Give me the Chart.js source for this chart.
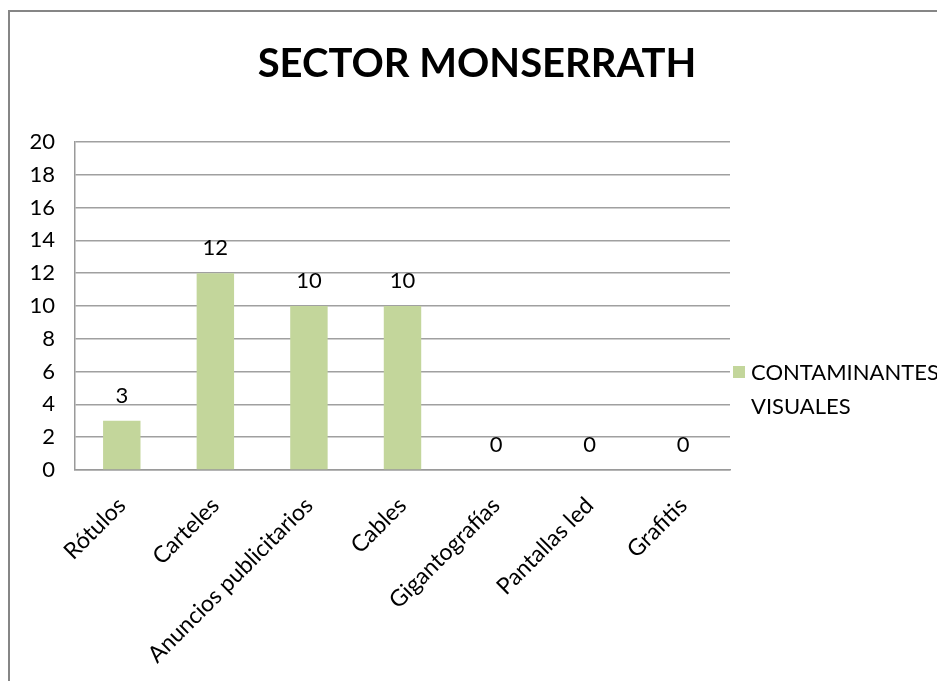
<!DOCTYPE html>
<html>
<head>
<meta charset="utf-8">
<script src="https://cdn.jsdelivr.net/npm/chart.js@4.4.0/dist/chart.umd.min.js"></script>
<style>
  body { margin: 0; overflow: hidden; background: #fff; }
  #frame { position: absolute; left: 8px; top: 10px; width: 1000px; height: 800px; border: 2px solid #868686; }
  #myChart { position: absolute; left: 0; top: 0; }
</style>
</head>
<body>
<div id="frame"></div>
<canvas id="myChart" width="937" height="681"></canvas>
<script>
// data
const categories = ['Rótulos', 'Carteles', 'Anuncios publicitarios', 'Cables', 'Gigantografías', 'Pantallas led', 'Grafitis'];
const values = [3, 12, 10, 10, 0, 0, 0];
const seriesLabel = 'CONTAMINANTES VISUALES';
const titleText = 'SECTOR MONSERRATH';

const font = 'Lato';

// title centred on the whole frame, not on the plot
const bigTitle = {
  id: 'bigTitle',
  afterDraw(chart) {
    const ctx = chart.ctx;
    ctx.save();
    ctx.font = 'bold 40px ' + font;
    ctx.fillStyle = '#000';
    ctx.textAlign = 'center';
    ctx.textBaseline = 'middle';
    ctx.fillText(titleText, 477, 64);
    ctx.restore();
  }
};

// value labels above the bars
const valueLabels = {
  id: 'valueLabels',
  afterDatasetsDraw(chart) {
    const ctx = chart.ctx;
    const meta = chart.getDatasetMeta(0);
    ctx.save();
    ctx.font = '22px ' + font;
    ctx.fillStyle = '#000';
    ctx.textAlign = 'center';
    ctx.textBaseline = 'middle';
    meta.data.forEach((bar, i) => {
      ctx.fillText(values[i], bar.x, bar.y - 25);
    });
    ctx.restore();
  }
};

// legend on the right, words on separate lines
const sideLegend = {
  id: 'sideLegend',
  afterDraw(chart) {
    const ctx = chart.ctx;
    const words = seriesLabel.split(' ');
    ctx.save();
    ctx.fillStyle = '#c3d69b';
    ctx.fillRect(733, 366, 12, 12);
    ctx.font = '22px ' + font;
    ctx.fillStyle = '#000';
    ctx.textAlign = 'left';
    ctx.textBaseline = 'middle';
    words.forEach((w, i) => {
      ctx.fillText(w, 751, 373 + i * 34);
    });
    ctx.restore();
  }
};

const ctx = document.getElementById('myChart').getContext('2d');
const myChart = new Chart(ctx, {
  type: 'bar',
  data: {
    labels: categories,
    datasets: [{
      label: seriesLabel,
      data: values,
      backgroundColor: '#c3d69b',
      barPercentage: 0.4,
      categoryPercentage: 1
    }]
  },
  options: {
    responsive: false,
    animation: false,
    layout: { padding: { left: 0, right: 207, top: 142, bottom: 0 } },
    plugins: {
      legend: { display: false },
      tooltip: { enabled: false },
      title: { display: false }
    },
    scales: {
      x: {
        grid: { display: false, drawTicks: false },
        border: { color: '#9a9a9a', width: 1.5 },
        ticks: {
          color: '#000',
          font: { family: font, size: 23 },
          minRotation: 45,
          maxRotation: 45,
          padding: 22
        },
        afterFit(scale) { scale.height = 211; }
      },
      y: {
        min: 0,
        max: 20,
        grid: { color: '#a0a0a0', lineWidth: 1.5, drawTicks: false },
        border: { color: '#9a9a9a', width: 1.5 },
        ticks: {
          stepSize: 2,
          color: '#000',
          font: { family: font, size: 22 },
          padding: 20
        },
        afterFit(scale) { scale.width = 75; }
      }
    }
  },
  plugins: [bigTitle, valueLabels, sideLegend]
});
</script>
</body>
</html>
